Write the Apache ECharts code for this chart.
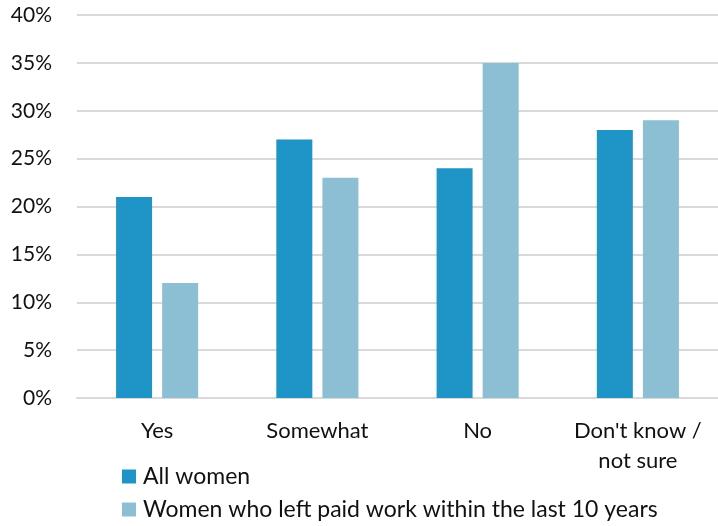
<!DOCTYPE html>
<html><head><meta charset="utf-8">
<script src="https://cdn.jsdelivr.net/npm/echarts@6/dist/echarts.min.js"></script>
<style>html,body{margin:0;padding:0;background:#fff}#c{width:718px;height:526px}</style>
</head><body><div id="c"></div>
<script>
const categories = ["Yes", "Somewhat", "No", "Don't know /\nnot sure"];
const allWomen = [21, 27, 24, 28];
const leftWork = [12, 23, 35, 29];
const seriesNames = ["All women", "Women who left paid work within the last 10 years"];
const FONT = "Lato, 'Open Sans', sans-serif";
const legendBase = {
  orient: 'horizontal', left: 122, itemWidth: 14, itemHeight: 14, itemGap: 10,
  icon: 'rect', padding: 0,
  textStyle: { fontSize: 23, color: '#111', fontFamily: FONT, padding: [0, 0, 0, 2] }
};
const chart = echarts.init(document.getElementById('c'));
chart.setOption({
  animation: false,
  textStyle: { fontFamily: FONT },
  grid: { left: 77, right: 0, top: 15, bottom: 128 },
  legend: [
    Object.assign({}, legendBase, { top: 465, data: [seriesNames[0]] }),
    Object.assign({}, legendBase, { top: 498, data: [seriesNames[1]] })
  ],
  xAxis: {
    type: 'category', data: categories,
    axisLine: { lineStyle: { color: '#d9d9d9', width: 2 } },
    axisTick: { show: false },
    axisLabel: { interval: 0, hideOverlap: false, fontSize: 22, color: '#111', margin: 18, lineHeight: 30, fontFamily: FONT }
  },
  yAxis: {
    type: 'value', min: 0, max: 40, interval: 5,
    axisLabel: { formatter: '{value}%', fontSize: 21, color: '#111', margin: 25, fontFamily: FONT },
    splitLine: { lineStyle: { color: '#d9d9d9', width: 2 } },
    axisLine: { show: false }, axisTick: { show: false }
  },
  series: [
    { name: seriesNames[0], type: 'bar', data: allWomen, barWidth: 36, barGap: '28%', itemStyle: { color: '#1f94c7' } },
    { name: seriesNames[1], type: 'bar', data: leftWork, barWidth: 36, itemStyle: { color: '#8cbfd3' } }
  ]
});
</script></body></html>
